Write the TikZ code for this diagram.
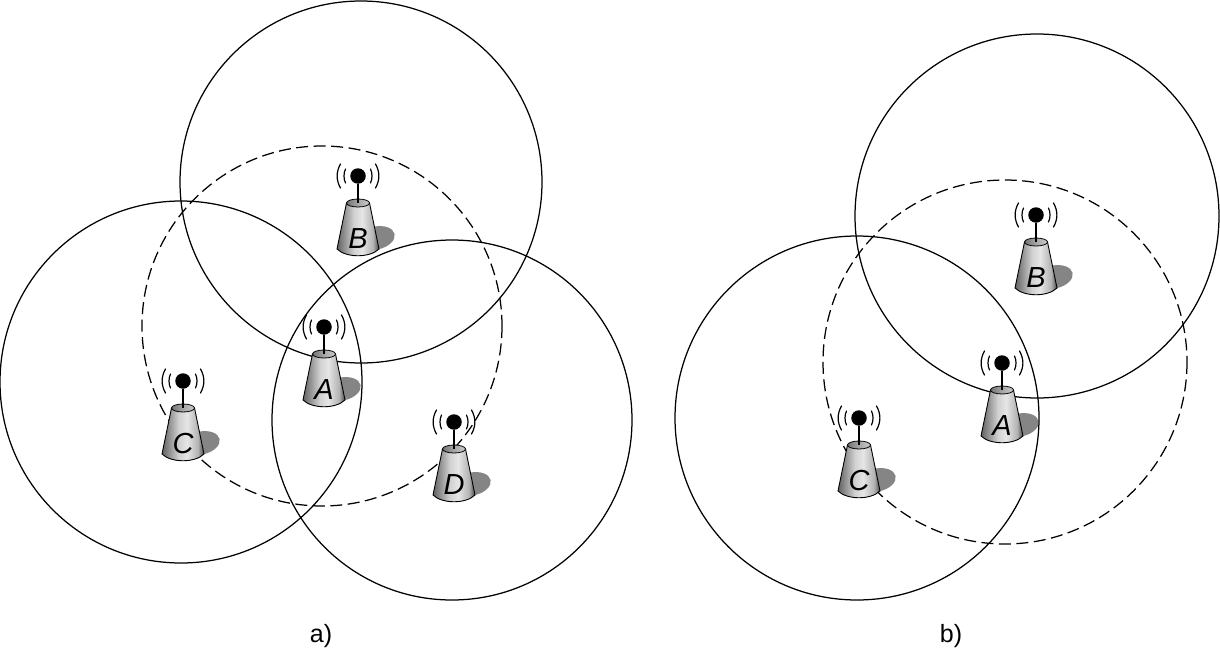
\documentclass[tikz,border=0pt]{standalone}
\usepackage{fontspec}
\setmainfont{Liberation Sans}
\pgfdeclarehorizontalshading{towershade}{100bp}{color(0bp)=(black!72); color(25bp)=(black!62); color(45bp)=(black!18); color(55bp)=(black!10); color(68bp)=(black!30); color(75bp)=(black!72); color(100bp)=(black!78)}
\pgfdeclarehorizontalshading{mouthshade}{100bp}{color(0bp)=(black!75); color(50bp)=(black!35); color(100bp)=(black!5)}
\tikzset{
  x=1pt,y=-1pt,
  ringsolid/.style={draw=black,line width=1.25pt},
  ringdash/.style={ringsolid,dash pattern=on 12pt off 5.5pt},
  wavearc/.style={draw=black,line width=1.2pt,line cap=round},
  towerbody/.style={draw=black,line width=0.9pt,shading=towershade},
  towermouth/.style={draw=black,line width=0.8pt,shading=mouthshade},
  shadowblob/.style={fill=black!48,draw=none},
  antennadot/.style={circle,fill=black,minimum size=15.5pt,inner sep=0pt},
  towerlabel/.style={font=\fontsize{29}{29}\selectfont\itshape,inner sep=0pt},
  captext/.style={font=\fontsize{25}{25}\selectfont,inner sep=0pt},
  towershadow/.pic={\fill[shadowblob,shift={(18,62)},rotate=12] (0,0) ellipse [x radius=19,y radius=11.5];},
  tower/.pic={
    \draw[towerbody] (-11.5,27) -- (-21,73) .. controls (-12,82) and (12,82) .. (21,73) -- (11.5,27) -- cycle;
    \draw[towermouth] (0,27) ellipse [x radius=11.5,y radius=4];
    \node[antennadot] (-dot) at (0,0) {};
    \coordinate (-top) at (0,27);
    \draw[line width=1.3pt] (-dot) -- (-top);
    \draw[wavearc] (-12.5,-7) .. controls (-14.5,-3) and (-14.5,3) .. (-12.5,7);
    \draw[wavearc] (12.5,-7) .. controls (14.5,-3) and (14.5,3) .. (12.5,7);
    \draw[wavearc] (-17.5,-12) .. controls (-22,-4) and (-22,4) .. (-17.5,12);
    \draw[wavearc] (17.5,-12) .. controls (22,-4) and (22,4) .. (17.5,12);
    \node[towerlabel] (-label) at (0,63) {\tikzpictext};
  }
}
\begin{document}
\begin{tikzpicture}
\useasboundingbox (0,0) rectangle (1220,650);
% shadows
\foreach \p in {(324,327),(358,176),(183,381),(454,422),(1036,215),(1002,363),(859,418)}
  \pic at \p {towershadow};
% panel a
\draw[ringsolid] (361,182) circle [radius=181];
\draw[ringdash] (322,326) circle [radius=180];
\draw[ringsolid] (181,382) circle [radius=181];
\draw[ringsolid] (452,420) circle [radius=180];
% panel b
\draw[ringsolid] (1037,216) circle [radius=182];
\draw[ringdash] (1005,362) circle [radius=182];
\draw[ringsolid] (857,418) circle [radius=182];
% towers
\pic (aA) [pic text=A] at (324,327) {tower};
\pic (aB) [pic text=B] at (358,176) {tower};
\pic (aC) [pic text=C] at (183,381) {tower};
\pic (aD) [pic text=D] at (454,422) {tower};
\pic (bB) [pic text=B] at (1036,215) {tower};
\pic (bA) [pic text=A] at (1002,363) {tower};
\pic (bC) [pic text=C] at (859,418) {tower};
\node[captext] (capa) at (321,636) {a)};
\node[captext] (capb) at (951,636) {b)};
\end{tikzpicture}
\end{document}
